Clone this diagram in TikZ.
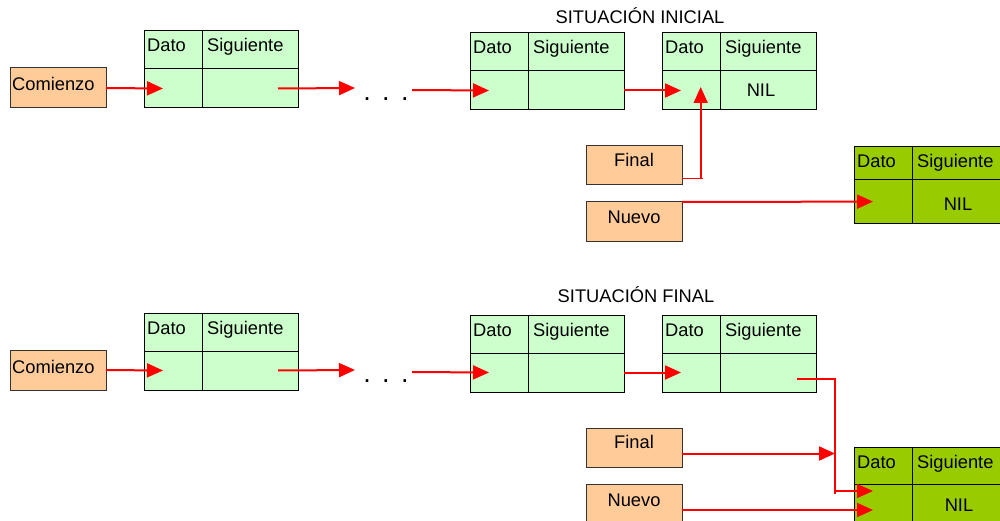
\documentclass[tikz,border=0pt]{standalone}
\usepackage{fontspec}
\setmainfont{Liberation Sans}
\usetikzlibrary{arrows.meta,calc}
\definecolor{lgreen}{RGB}{204,255,204}
\definecolor{dgreen}{RGB}{153,204,0}
\definecolor{orng}{RGB}{255,204,153}
\tikzset{
  cell/.style={draw=black,line width=1pt,inner sep=0pt,outer sep=0pt,anchor=north west},
  lbl/.style={font=\fontsize{18.3}{22}\selectfont,inner sep=0pt,text=black},
  dotlbl/.style={font=\fontsize{27}{30}\selectfont,inner sep=0pt,text=black},
  ptrbox/.style={draw=black!80,line width=1pt,fill=orng,minimum width=96pt,minimum height=39pt,inner sep=0pt,outer sep=0pt,anchor=north west},
  ptr/.style={draw=red,line width=2pt,-{Triangle[length=16pt,width=14pt]}},
  thinptr/.style={draw=red,line width=1.3pt,-{Triangle[length=16pt,width=14pt]}},
}
% #1 name, #2 x, #3 y, #4 fill, #5 top height, #6 bottom height
\newcommand{\lnode}[6]{%
  \node[cell,fill=#4,minimum width=58pt,minimum height=#5] (#1-d) at (#2,#3) {};
  \node[cell,fill=#4,minimum width=96pt,minimum height=#5] (#1-s) at (#1-d.north east) {};
  \node[cell,fill=#4,minimum width=58pt,minimum height=#6] (#1-p) at (#1-d.south west) {};
  \node[cell,fill=#4,minimum width=96pt,minimum height=#6] (#1-n) at (#1-p.north east) {};
  \node[lbl,anchor=base west] (#1-dt) at ([xshift=3pt,yshift=-21pt]#1-d.north west) {Dato};
  \node[lbl,anchor=base west] (#1-st) at ([xshift=5pt,yshift=-21pt]#1-s.north west) {Siguiente};
}
\begin{document}
\begin{tikzpicture}[x=1pt,y=-1pt]
\useasboundingbox (0,0) rectangle (1000,521);
\fill[white] (0,0) rectangle (1000,521);
\clip (0,0) rectangle (1000,521);

% ---------------- SITUACION INICIAL ----------------
\node[lbl,anchor=base] (t1) at (640,24) {SITUACIÓN INICIAL};

\node[ptrbox,minimum height=40pt] (c1) at (10,68) {};
\node[lbl,anchor=base west] (c1t) at ([xshift=2pt,yshift=-23pt]c1.north west) {Comienzo};

\lnode{L1}{144}{31}{lgreen}{38pt}{39pt}
\lnode{L2}{470}{33}{lgreen}{38pt}{39pt}
\lnode{L3}{662}{33}{lgreen}{38pt}{39pt}
\node[lbl,anchor=base] (L3-nil) at ([xshift=-7pt,yshift=-25.7pt]L3-n.north) {NIL};

\node[ptrbox] (f1) at (586,146) {};
\node[lbl,anchor=base] (f1t) at ([yshift=-20.7pt]f1.north) {Final};
\node[ptrbox] (n1) at (586,202) {};
\node[lbl,anchor=base] (n1t) at ([yshift=-22pt]n1.north) {Nuevo};

\lnode{G1}{854}{147}{dgreen}{32.6pt}{44pt}
\node[lbl,anchor=base] (G1-nil) at ([xshift=-2pt,yshift=-31.4pt]G1-n.north) {NIL};

\node[dotlbl,anchor=base] (dots1) at (386,101) {.\hspace{11.5pt}.\hspace{11.5pt}.};
\coordinate (d1a) at (355,88);
\coordinate (d1b) at (412,90);

\draw[ptr] (c1.east) -- ([xshift=19pt]L1-p.west);
\draw[ptr] ([xshift=-20pt]L1-n.east) -- (d1a);
\draw[ptr] (d1b) -- ([xshift=19pt]L2-p.west);
\draw[ptr] (L2-n.east) -- ([xshift=19pt]L3-p.west);

\coordinate (f1o) at ([yshift=-13.5pt]f1.east);
\coordinate (L3up) at ([xshift=38.7pt,yshift=3.5pt]L3-p.west);
\draw[red,line width=1pt] (f1o) -- ([xshift=21pt]f1o);
\draw[ptr,line width=1.6pt] (f1o -| L3up) -- (L3up);
\draw[ptr] (n1.north east) -- ([xshift=19pt]G1-p.west);

% ---------------- SITUACION FINAL ----------------
\node[lbl,anchor=base] (t2) at (636,302) {SITUACIÓN FINAL};

\node[ptrbox,minimum height=40pt] (c2) at (10,350) {};
\node[lbl,anchor=base west] (c2t) at ([xshift=2pt,yshift=-23pt]c2.north west) {Comienzo};

\lnode{L4}{144}{313}{lgreen}{38pt}{39pt}
\lnode{L5}{470}{315}{lgreen}{38pt}{39pt}
\lnode{L6}{662}{315}{lgreen}{38pt}{39pt}

\node[ptrbox] (f2) at (586,428) {};
\node[lbl,anchor=base] (f2t) at ([yshift=-20.7pt]f2.north) {Final};
\node[ptrbox] (n2) at (586,484) {};
\node[lbl,anchor=base] (n2t) at ([yshift=-22pt]n2.north) {Nuevo};

\lnode{G2}{854}{447}{dgreen}{37.6pt}{40pt}
\node[lbl,anchor=base] (G2-nil) at ([xshift=-1pt,yshift=-26.4pt]G2-n.north) {NIL};

\node[dotlbl,anchor=base] (dots2) at (386,382) {.\hspace{11.5pt}.\hspace{11.5pt}.};
\coordinate (d2a) at (355,370);
\coordinate (d2b) at (412,372);

\draw[ptr] (c2.east) -- ([xshift=19pt]L4-p.west);
\draw[ptr] ([xshift=-20pt]L4-n.east) -- (d2a);
\draw[ptr] (d2b) -- ([xshift=19pt]L5-p.west);
\draw[ptr] (L5-n.east) -- ([xshift=19pt]L6-p.west);

\coordinate (l6o) at (797,379);
\coordinate (jn) at (835,491);
\coordinate (g2a) at (873,491);
\coordinate (g2b) at (873,510);
\draw[red,line width=1.3pt] (jn) -- ++(0,2.5);
\draw[thinptr] (l6o) -| (jn) -- (g2a);

\coordinate (f2o) at ([yshift=-6pt]f2.east);
\draw[ptr] (f2o) -- (f2o -| jn);
\coordinate (n2o) at ([yshift=-26pt]n2.north east);
\draw[ptr] (n2o) -- (n2o -| g2b);
\end{tikzpicture}
\end{document}
